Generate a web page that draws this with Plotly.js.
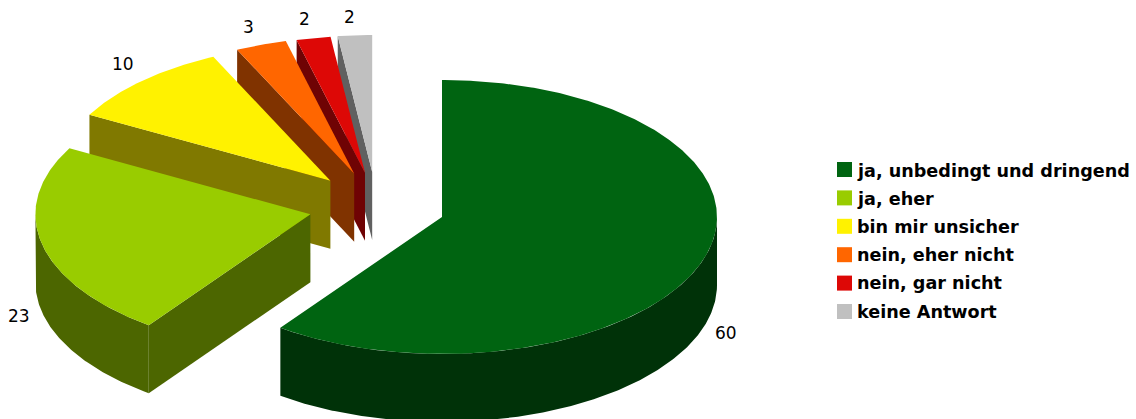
<!DOCTYPE html>
<html>
<head>
<meta charset="utf-8">
<script src="https://cdn.plot.ly/plotly-3.0.1.min.js"></script>
<style>html,body{margin:0;padding:0;background:#fff}#chart{width:1136px;height:419px}</style>
</head>
<body>
<div id="chart"></div>
<script>
// Survey answers, in percent
const categories = ['ja, unbedingt und dringend', 'ja, eher', 'bin mir unsicher', 'nein, eher nicht', 'nein, gar nicht', 'keine Antwort'];
const values = [60, 23, 10, 3, 2, 2];

// Face and wall colours per slice
const topColors = ['#006411', '#99CC00', '#FFF200', '#FF6600', '#DD0806', '#C0C0C0'];
const wallColors = ['#003208', '#4C6600', '#807900', '#803300', '#6F0304', '#606060'];

// Where each slice's tip sits once pulled out of the pie
const tipX = [442, 310.4, 330.4, 354.2, 365, 372.2];
const tipY = [217, 214.3, 180.7, 173.7, 172.7, 172];

// Small corrections to the value label positions
const labelNudgeX = [0, 0, 1, 0, 0, 0];
const labelNudgeY = [0, 0, -2.4, 0, 0, 0.7];

// Projection of the tilted disc
const rx = 275, ry = 137, depth = 68;

const legendX = 844.5, legendTextX = 857, legendY0 = 169.5, legendStep = 28.4, legendTextStep = 28.2;

const total = values.reduce((a, b) => a + b, 0);
const rad = d => d * Math.PI / 180;
const traces = [];
const annotations = [];

function addPolygon(xs, ys, color) {
  traces.push({
    type: 'scatter', mode: 'lines', x: xs.concat(xs[0]), y: ys.concat(ys[0]),
    fill: 'toself', fillcolor: color, line: {width: 0}, hoverinfo: 'skip', showlegend: false
  });
}

// Arc samples along the rim, angles clockwise from twelve o'clock
function rim(cx, cy, a0, a1) {
  const n = Math.max(2, Math.ceil((a1 - a0) * 2));
  const xs = [], ys = [];
  for (let i = 0; i <= n; i++) {
    const a = rad(a0 + (a1 - a0) * i / n);
    xs.push(cx + rx * Math.sin(a));
    ys.push(cy - ry * Math.cos(a));
  }
  return {xs, ys};
}

function radialWall(cx, cy, a, color) {
  const ex = cx + rx * Math.sin(rad(a)), ey = cy - ry * Math.cos(rad(a));
  addPolygon([cx, ex, ex, cx], [cy, ey, ey + depth, cy + depth], color);
}

// Cumulative start and end angle of every slice
const starts = [], ends = [];
values.reduce((acc, v, i) => {
  starts[i] = acc / total * 360;
  ends[i] = (acc + v) / total * 360;
  return acc + v;
}, 0);

// Paint from the back of the pie to the front
for (let i = values.length - 1; i >= 0; i--) {
  const cx = tipX[i], cy = tipY[i], a0 = starts[i], a1 = ends[i];
  if (a0 > 180 && a0 < 360) radialWall(cx, cy, a0, wallColors[i]);
  if (a1 > 0 && a1 < 180) radialWall(cx, cy, a1, wallColors[i]);
  const f0 = Math.max(a0, 90), f1 = Math.min(a1, 270);
  if (f1 > f0) {
    const r = rim(cx, cy, f0, f1);
    addPolygon(r.xs.concat(r.xs.slice().reverse()),
               r.ys.concat(r.ys.slice().reverse().map(y => y + depth)), wallColors[i]);
  }
  const t = rim(cx, cy, a0, a1);
  addPolygon([cx].concat(t.xs), [cy].concat(t.ys), topColors[i]);
}

// Value labels just outside the rim
values.forEach((v, i) => {
  const mid = rad((starts[i] + ends[i]) / 2);
  const front = Math.cos(mid) < 0;
  annotations.push({
    x: tipX[i] + (rx + 24) * Math.sin(mid) - (front ? 0 : 4) + labelNudgeX[i],
    y: tipY[i] - (ry + 17) * Math.cos(mid) + (front ? depth : -2) + labelNudgeY[i],
    xref: 'x', yref: 'y', text: String(v), showarrow: false, xanchor: 'center', yanchor: 'middle',
    font: {family: 'DejaVu Sans', size: 17, color: '#000'}
  });
});

// Legend column
traces.push({
  type: 'scatter', mode: 'markers',
  x: categories.map(() => legendX),
  y: categories.map((c, i) => legendY0 + i * legendStep),
  marker: {symbol: 'square', size: 15, color: topColors, line: {width: 0}},
  hoverinfo: 'skip', showlegend: false
});
categories.forEach((c, i) => {
  annotations.push({
    x: legendTextX, y: legendY0 + i * legendTextStep, xref: 'x', yref: 'y',
    text: '<b>' + c + '</b>', showarrow: false, xanchor: 'left', yanchor: 'middle', xshift: -2, yshift: -1,
    font: {family: 'DejaVu Sans', size: 17.6, color: '#000'}
  });
});

Plotly.newPlot('chart', traces, {
  width: 1136, height: 419,
  margin: {l: 0, r: 0, t: 0, b: 0},
  paper_bgcolor: '#fff', plot_bgcolor: '#fff',
  showlegend: false,
  xaxis: {range: [0, 1136], visible: false, fixedrange: true},
  yaxis: {range: [419, 0], visible: false, fixedrange: true},
  annotations
}, {displayModeBar: false, staticPlot: true});
</script>
</body>
</html>
